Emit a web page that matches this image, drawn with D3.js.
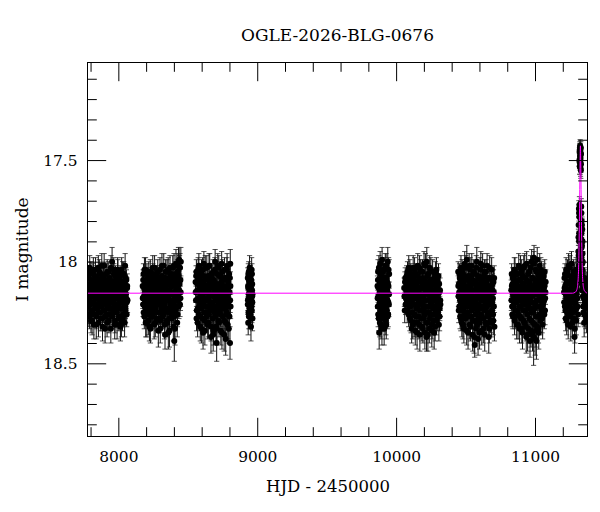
<!DOCTYPE html>
<html><head><meta charset="utf-8">
<script src="https://cdn.jsdelivr.net/npm/d3@7"></script>
<style>
body{margin:0;background:#fff}
text{font-family:"DejaVu Serif",serif;fill:#000}
</style>
</head><body>
<svg id="c" width="600" height="512"></svg>
<script>
const title = "OGLE-2026-BLG-0676";
const xLabel = "HJD - 2450000";
const yLabel = "I magnitude";
const xDomain = [7778, 11378];
const yDomain = [17.02, 18.86];
const xMajorTicks = [8000, 9000, 10000, 11000];
const xMinorTicks = [7800, 8200, 8400, 8600, 8800, 9200, 9400, 9600, 9800, 10200, 10400, 10600, 10800, 11200];
const yMajorTicks = [17.5, 18, 18.5];
const yMinorTicks = [17.1, 17.2, 17.3, 17.4, 17.6, 17.7, 17.8, 17.9, 18.1, 18.2, 18.3, 18.4, 18.6, 18.7, 18.8];

// [HJD-2450000, I mag, error]
const season1 = [[7781,18.14,.05],[7784,18.22,.06],[7786,18.08,.05],[7790,18.19,.05],[7793,18.27,.06],[7795,18.11,.04],[7799,18.17,.05],[7802,18.05,.05],[7805,18.24,.06],[7807,18.15,.05],
[7811,18.29,.07],[7814,18.10,.05],[7816,18.20,.05],[7820,18.04,.06],[7823,18.16,.04],[7826,18.26,.06],[7828,18.12,.05],[7832,18.21,.05],[7835,18.07,.05],[7837,18.18,.04],
[7841,18.31,.07],[7844,18.13,.05],[7847,18.23,.05],[7849,18.09,.05],[7853,18.17,.05],[7856,18.03,.06],[7858,18.25,.06],[7862,18.14,.04],[7865,18.20,.05],[7868,18.11,.05],
[7870,18.28,.06],[7874,18.06,.05],[7877,18.18,.05],[7880,18.22,.05],[7882,18.13,.04],[7886,18.32,.07],[7889,18.08,.05],[7891,18.16,.05],[7895,18.24,.06],[7898,18.02,.06],
[7901,18.19,.05],[7903,18.12,.05],[7907,18.27,.06],[7910,18.15,.04],[7912,18.06,.05],[7916,18.21,.05],[7919,18.30,.07],[7922,18.10,.05],[7925,18.17,.04],[7928,18.23,.05],
[7931,18.05,.05],[7934,18.14,.05],[7937,18.26,.06],[7940,18.09,.05],[7943,18.19,.05],[7946,18.33,.07],[7949,18.12,.05],[7952,18.20,.05],[7955,18.00,.07],[7958,18.16,.04],
[7961,18.25,.06],[7964,18.11,.05],[7967,18.04,.06],[7970,18.22,.05],[7973,18.14,.05],[7976,18.29,.06],[7979,18.07,.05],[7982,18.18,.05],[7985,18.24,.05],[7988,18.10,.05],
[7991,18.31,.07],[7994,18.15,.04],[7997,18.05,.06],[8000,18.21,.05],[8003,18.13,.05],[8006,18.27,.06],[8009,18.08,.05],[8012,18.19,.05],[8015,18.32,.07],[8018,18.12,.05],
[8021,18.23,.05],[8024,18.04,.06],[8027,18.17,.05],[8030,18.28,.06],[8033,18.10,.05],[8036,18.20,.05],[8039,18.06,.06],[8042,18.15,.05],[8045,18.30,.07],[8048,18.12,.05],
[8051,18.22,.06],[8054,18.08,.05],[8057,18.18,.05],[8060,18.26,.06],[8063,18.13,.05],[8066,18.19,.06],
[7782,18.19,.05],[7785,18.07,.05],[7788,18.26,.06],[7791,18.15,.04],[7794,18.03,.06],[7797,18.21,.05],[7800,18.12,.05],[7803,18.29,.06],[7806,18.17,.05],[7809,18.09,.05],
[7812,18.24,.06],[7815,18.13,.04],[7818,18.06,.05],[7821,18.20,.05],[7824,18.31,.07],[7827,18.16,.05],[7830,18.11,.05],[7833,18.23,.05],[7836,18.04,.06],[7839,18.18,.05],
[7842,18.27,.06],[7845,18.14,.04],[7848,18.08,.05],[7851,18.22,.05],[7854,18.12,.05],[7857,18.30,.07],[7860,18.19,.05],[7863,18.05,.06],[7866,18.15,.04],[7869,18.25,.06],
[7872,18.10,.05],[7875,18.21,.05],[7878,18.17,.05],[7881,18.02,.06],[7884,18.28,.06],[7887,18.13,.05],[7890,18.19,.05],[7893,18.07,.05],[7896,18.24,.06],[7899,18.16,.04],
[7902,18.11,.05],[7905,18.33,.07],[7908,18.20,.05],[7911,18.09,.05],[7914,18.14,.04],[7917,18.26,.06],[7920,18.05,.06],[7923,18.18,.05],[7926,18.22,.05],[7929,18.12,.05],
[7932,18.29,.06],[7935,18.15,.04],[7938,18.08,.05],[7941,18.23,.05],[7944,18.17,.05],[7947,18.03,.06],[7950,18.20,.05],[7953,18.13,.05],[7956,18.27,.06],[7959,18.10,.05],
[7962,18.19,.05],[7965,18.24,.06],[7968,18.06,.05],[7971,18.16,.04],[7974,18.31,.07],[7977,18.14,.05],[7980,18.21,.05],[7983,18.09,.05],[7986,18.18,.05],[7989,18.25,.06],
[7992,18.12,.05],[7995,18.04,.06],[7998,18.22,.05],[8001,18.16,.05],[8004,18.28,.06],[8007,18.11,.05],[8010,18.19,.05],[8013,18.07,.05],[8016,18.23,.05],[8019,18.15,.05],
[8022,18.30,.07],[8025,18.13,.05],[8028,18.20,.05],[8031,18.06,.06],[8034,18.17,.05],[8037,18.26,.06],[8040,18.10,.05],[8043,18.21,.05],[8046,18.14,.05],[8049,18.02,.06],
[8052,18.24,.06],[8055,18.16,.05],[8058,18.09,.05],[8061,18.20,.05],[8064,18.12,.06]];

const season2 = [[8175,18.12,.05],[8178,18.21,.06],[8181,18.06,.05],[8184,18.17,.05],[8187,18.27,.06],[8190,18.10,.05],[8193,18.19,.05],[8196,18.04,.06],[8199,18.24,.06],[8202,18.14,.04],
[8205,18.30,.07],[8208,18.09,.05],[8211,18.20,.05],[8214,18.13,.05],[8216,18.29,.07],[8219,18.05,.05],[8222,18.17,.05],[8225,18.22,.05],[8228,18.11,.05],[8231,18.33,.07],
[8234,18.08,.05],[8237,18.18,.05],[8240,18.25,.06],[8243,18.14,.04],[8246,18.27,.06],[8249,18.06,.05],[8252,18.20,.05],[8255,18.12,.05],[8258,18.31,.07],[8261,18.03,.06],
[8264,18.16,.05],[8267,18.23,.05],[8270,18.10,.05],[8273,18.28,.06],[8276,18.15,.04],[8279,18.07,.05],[8282,18.21,.05],[8285,18.13,.05],[8288,18.34,.08],[8291,18.09,.05],
[8294,18.18,.05],[8297,18.25,.06],[8300,18.04,.06],[8303,18.16,.04],[8306,18.29,.06],[8309,18.11,.05],[8312,18.22,.05],[8315,18.07,.05],[8318,18.19,.05],[8321,18.27,.06],
[8324,18.13,.05],[8327,18.02,.06],[8330,18.21,.05],[8333,18.15,.04],[8336,18.36,.07],[8339,18.08,.05],[8342,18.18,.05],[8345,18.24,.06],[8348,18.11,.05],[8351,18.05,.06],
[8354,18.30,.07],[8357,18.17,.05],[8360,18.35,.08],[8363,18.09,.05],[8366,18.14,.05],[8369,18.28,.06],[8372,18.03,.06],[8375,18.19,.05],[8378,18.23,.06],[8381,18.12,.05],
[8384,18.06,.05],[8387,18.26,.06],[8390,18.16,.05],[8393,18.10,.05],[8396,18.32,.07],[8399,18.21,.05],[8401,18.02,.06],[8403,18.39,.10],[8406,18.15,.05],[8409,18.08,.05],
[8412,18.24,.06],[8415,18.01,.07],[8418,18.19,.05],[8421,18.13,.05],[8424,18.30,.07],[8427,18.05,.06],[8430,18.17,.05],[8433,18.00,.07],[8436,18.22,.06],[8438,17.99,.06],
[8441,18.11,.05],[8444,18.03,.07],[8447,18.18,.06],[8450,18.00,.07],
[8176,18.18,.05],[8179,18.09,.05],[8182,18.25,.06],[8185,18.13,.05],[8188,18.04,.06],[8191,18.22,.05],[8194,18.15,.04],[8197,18.30,.07],[8200,18.11,.05],[8203,18.19,.05],
[8206,18.06,.05],[8209,18.26,.06],[8212,18.16,.05],[8215,18.08,.05],[8218,18.23,.05],[8221,18.12,.05],[8224,18.32,.07],[8227,18.18,.05],[8230,18.05,.06],[8233,18.21,.05],
[8236,18.14,.04],[8239,18.27,.06],[8242,18.10,.05],[8245,18.19,.05],[8248,18.03,.06],[8251,18.24,.06],[8254,18.16,.05],[8257,18.09,.05],[8260,18.22,.05],[8263,18.13,.05],
[8266,18.30,.07],[8269,18.07,.05],[8272,18.18,.05],[8275,18.25,.06],[8278,18.12,.05],[8281,18.20,.05],[8284,18.05,.06],[8287,18.15,.04],[8290,18.28,.06],[8293,18.11,.05],
[8296,18.21,.05],[8299,18.17,.05],[8302,18.33,.07],[8305,18.08,.05],[8308,18.14,.05],[8311,18.24,.06],[8314,18.02,.06],[8317,18.19,.05],[8320,18.12,.05],[8323,18.26,.06],
[8326,18.16,.05],[8329,18.09,.05],[8332,18.31,.07],[8335,18.20,.05],[8338,18.13,.05],[8341,18.05,.06],[8344,18.23,.05],[8347,18.17,.05],[8350,18.29,.06],[8353,18.10,.05],
[8356,18.19,.05],[8359,18.04,.06],[8362,18.25,.06],[8365,18.14,.05],[8368,18.34,.08],[8371,18.11,.05],[8374,18.21,.05],[8377,18.07,.05],[8380,18.16,.05],[8383,18.28,.06],
[8386,18.12,.05],[8389,18.20,.05],[8392,18.03,.06],[8395,18.24,.06],[8398,18.15,.05],[8400,18.09,.05],[8402,18.27,.06],[8405,18.18,.05],[8408,18.33,.08],[8411,18.12,.05],
[8414,18.06,.06],[8417,18.22,.05],[8420,18.15,.05],[8423,18.02,.06],[8426,18.26,.06],[8429,18.10,.05],[8432,18.19,.05],[8435,18.07,.06],[8438,18.14,.06],[8441,18.03,.06],
[8444,18.21,.06],[8447,18.09,.06],[8449,18.15,.07]];

const season3 = [[8556,18.10,.05],[8559,18.19,.05],[8562,18.05,.06],[8565,18.24,.06],[8568,18.14,.05],[8571,18.30,.07],[8574,18.08,.05],[8577,18.18,.05],[8580,18.02,.06],[8583,18.22,.05],
[8586,18.12,.05],[8589,18.27,.06],[8592,18.06,.05],[8595,18.16,.05],[8598,18.33,.07],[8601,18.10,.05],[8604,18.20,.05],[8607,18.04,.06],[8610,18.35,.08],[8613,18.13,.05],
[8616,18.01,.06],[8619,18.18,.05],[8622,18.29,.06],[8625,18.09,.05],[8628,18.25,.06],[8631,18.15,.05],[8634,18.22,.05],[8637,18.03,.06],[8640,18.12,.05],[8643,18.31,.07],
[8646,18.07,.05],[8649,18.19,.05],[8652,18.26,.06],[8655,18.11,.05],[8658,18.02,.06],[8661,18.21,.05],[8664,18.16,.05],[8667,18.37,.08],[8670,18.08,.05],[8673,18.23,.05],
[8676,18.13,.05],[8679,18.28,.06],[8682,18.05,.06],[8685,18.34,.07],[8688,18.17,.05],[8691,18.10,.05],[8694,18.25,.06],[8697,18.00,.06],[8700,18.19,.05],[8703,18.32,.07],
[8706,18.12,.05],[8708,18.40,.09],[8711,18.06,.06],[8714,18.22,.05],[8717,18.15,.05],[8720,18.29,.06],[8723,18.03,.06],[8726,18.18,.05],[8729,18.11,.05],[8732,18.24,.06],
[8735,18.07,.05],[8738,18.34,.07],[8741,18.16,.05],[8744,18.01,.06],[8747,18.21,.05],[8750,18.13,.05],[8753,18.27,.06],[8756,18.09,.05],[8759,18.19,.05],[8762,18.36,.08],
[8765,18.04,.06],[8768,18.23,.05],[8771,18.14,.05],[8774,18.30,.07],[8777,18.08,.05],[8780,18.17,.05],[8783,18.02,.06],[8786,18.26,.06],[8789,18.12,.05],[8792,18.20,.05],
[8795,18.33,.07],[8798,18.06,.06],[8801,18.15,.05],[8804,18.40,.08],[8806,18.01,.07],[8808,18.22,.06],
[8557,18.15,.05],[8560,18.07,.05],[8563,18.28,.06],[8566,18.19,.05],[8569,18.11,.05],[8572,18.23,.05],[8575,18.04,.06],[8578,18.26,.06],[8581,18.14,.05],[8584,18.09,.05],
[8587,18.20,.05],[8590,18.32,.07],[8593,18.12,.05],[8596,18.23,.05],[8599,18.05,.06],[8602,18.17,.05],[8605,18.28,.06],[8608,18.11,.05],[8611,18.21,.05],[8614,18.07,.05],
[8617,18.25,.06],[8620,18.15,.05],[8623,18.34,.07],[8626,18.03,.06],[8629,18.19,.05],[8632,18.12,.05],[8635,18.27,.06],[8638,18.18,.05],[8641,18.08,.05],[8644,18.22,.05],
[8647,18.14,.05],[8650,18.30,.07],[8653,18.02,.06],[8656,18.17,.05],[8659,18.24,.06],[8662,18.10,.05],[8665,18.20,.05],[8668,18.32,.07],[8671,18.06,.05],[8674,18.16,.05],
[8677,18.21,.05],[8680,18.12,.05],[8683,18.36,.08],[8686,18.09,.05],[8689,18.23,.05],[8692,18.15,.05],[8695,18.04,.06],[8698,18.27,.06],[8701,18.18,.05],[8704,18.11,.05],
[8707,18.25,.06],[8710,18.33,.07],[8713,18.13,.05],[8716,18.02,.06],[8719,18.20,.05],[8722,18.16,.05],[8725,18.30,.07],[8728,18.07,.05],[8731,18.22,.05],[8734,18.14,.05],
[8737,18.26,.06],[8740,18.10,.05],[8743,18.19,.05],[8746,18.35,.08],[8749,18.05,.06],[8752,18.17,.05],[8755,18.23,.05],[8758,18.12,.05],[8761,18.29,.06],[8764,18.15,.05],
[8767,18.08,.05],[8770,18.21,.05],[8773,18.38,.08],[8776,18.13,.05],[8779,18.25,.06],[8782,18.04,.06],[8785,18.18,.05],[8788,18.31,.07],[8791,18.10,.05],[8794,18.22,.05],
[8797,18.15,.05],[8800,18.27,.06],[8803,18.08,.06],[8805,18.19,.06],[8807,18.12,.07]];

const season4 = [[8932,18.08,.05],[8933,18.19,.05],[8935,18.30,.06],[8936,18.13,.05],[8937,18.25,.06],[8939,18.05,.05],[8940,18.16,.05],[8942,18.10,.05],[8943,18.22,.05],[8945,18.03,.06],
[8946,18.18,.05],[8948,18.27,.06],[8949,18.12,.05],[8951,18.07,.05],[8952,18.21,.05],[8954,18.15,.05],[8955,18.32,.07],[8957,18.09,.05],[8958,18.19,.05],[8960,18.04,.06],
[8961,18.24,.06],[8963,18.14,.05],[8964,18.11,.05],[8965,18.20,.05],[8966,18.16,.05],
[8932,18.21,.05],[8934,18.12,.05],[8936,18.06,.05],[8938,18.18,.05],[8940,18.27,.06],[8941,18.09,.05],[8943,18.15,.05],[8944,18.24,.06],[8947,18.10,.05],[8950,18.17,.05],
[8953,18.26,.06],[8956,18.13,.05],[8959,18.22,.05],[8962,18.06,.05],[8964,18.17,.05],[8966,18.28,.06]];

const season5 = [[9866,18.12,.05],[9868,18.22,.06],[9870,18.05,.06],[9873,18.17,.05],[9875,18.28,.06],[9878,18.35,.08],[9880,18.09,.05],[9882,18.19,.05],[9885,18.01,.06],[9887,18.25,.06],
[9890,18.14,.05],[9892,18.31,.07],[9894,18.07,.05],[9897,18.20,.05],[9899,17.99,.06],[9902,18.16,.05],[9904,18.27,.06],[9906,18.11,.05],[9909,18.23,.05],[9911,18.04,.06],
[9914,18.33,.08],[9916,18.13,.05],[9918,18.21,.05],[9921,18.08,.05],[9923,18.18,.05],[9926,18.29,.07],[9928,18.02,.06],[9930,18.15,.05],[9933,18.24,.06],[9935,18.10,.05],
[9938,18.19,.05],[9940,18.00,.07],[9943,18.26,.06],[9945,18.12,.05],[9948,18.21,.06],[9950,18.06,.07],
[9867,18.18,.05],[9869,18.09,.05],[9871,18.26,.06],[9874,18.13,.05],[9876,18.03,.06],[9879,18.21,.05],[9881,18.15,.05],[9883,18.30,.07],[9886,18.10,.05],[9888,18.19,.05],
[9891,18.06,.05],[9893,18.24,.06],[9895,18.16,.05],[9898,18.33,.08],[9900,18.12,.05],[9903,18.22,.05],[9905,18.05,.06],[9907,18.18,.05],[9910,18.28,.06],[9912,18.14,.05],
[9915,18.09,.05],[9917,18.25,.06],[9919,18.17,.05],[9922,18.02,.06],[9924,18.23,.05],[9927,18.13,.05],[9929,18.31,.07],[9931,18.08,.05],[9934,18.19,.05],[9936,18.14,.05],
[9939,18.27,.06],[9941,18.11,.05],[9944,18.20,.05],[9946,18.04,.06],[9949,18.16,.06]];

const season6 = [[10058,18.13,.05],[10062,18.24,.06],[10066,18.08,.05],[10070,18.18,.05],[10074,18.11,.05],[10078,18.20,.05],[10082,18.05,.05],[10086,18.15,.05],[10090,18.26,.06],[10093,18.09,.05],
[10096,18.17,.05],[10099,18.04,.05],[10102,18.22,.05],[10105,18.12,.05],[10108,18.29,.06],[10111,18.07,.05],[10114,18.19,.05],[10117,18.14,.05],[10120,18.31,.07],[10123,18.03,.06],
[10126,18.21,.05],[10129,18.10,.05],[10132,18.26,.06],[10135,18.16,.05],[10138,18.34,.07],[10141,18.06,.05],[10144,18.18,.05],[10147,18.23,.06],[10150,18.12,.05],[10153,18.30,.07],
[10156,18.02,.06],[10159,18.15,.05],[10162,18.27,.06],[10165,18.09,.05],[10168,18.20,.05],[10171,18.36,.08],[10174,18.13,.05],[10177,18.05,.06],[10180,18.24,.06],[10183,18.17,.05],
[10186,18.32,.07],[10189,18.08,.05],[10192,18.21,.05],[10195,18.11,.05],[10198,18.28,.06],[10201,18.01,.06],[10204,18.16,.05],[10207,18.35,.08],[10210,18.19,.05],[10213,18.10,.05],
[10216,18.25,.06],[10219,18.37,.07],[10221,18.00,.07],[10224,18.14,.05],[10227,18.30,.07],[10230,18.06,.05],[10233,18.22,.05],[10236,18.12,.05],[10239,18.33,.07],[10242,18.03,.06],
[10245,18.18,.05],[10248,18.26,.06],[10251,18.09,.05],[10254,18.20,.05],[10257,18.34,.08],[10260,18.14,.05],[10263,18.05,.06],[10266,18.23,.06],[10269,18.16,.05],[10272,18.29,.07],
[10275,18.08,.05],[10278,18.19,.05],[10281,18.32,.07],[10284,18.11,.05],[10287,18.24,.06],[10290,18.04,.06],[10293,18.17,.05],[10296,18.27,.07],[10299,18.12,.05],[10302,18.21,.06],
[10305,18.07,.06],[10308,18.31,.08],[10311,18.15,.05],[10314,18.23,.06],[10318,18.19,.05],
[10060,18.17,.05],[10064,18.10,.05],[10068,18.21,.05],[10072,18.14,.05],[10076,18.07,.05],[10080,18.24,.06],[10084,18.12,.05],[10088,18.19,.05],[10091,18.03,.06],[10094,18.22,.05],
[10097,18.13,.05],[10100,18.28,.06],[10103,18.16,.05],[10106,18.06,.05],[10109,18.20,.05],[10112,18.33,.07],[10115,18.11,.05],[10118,18.25,.06],[10121,18.15,.05],[10124,18.08,.05],
[10127,18.18,.05],[10130,18.30,.07],[10133,18.04,.06],[10136,18.21,.05],[10139,18.13,.05],[10142,18.27,.06],[10145,18.10,.05],[10148,18.17,.05],[10151,18.35,.08],[10154,18.07,.05],
[10157,18.22,.05],[10160,18.14,.05],[10163,18.19,.05],[10166,18.31,.07],[10169,18.03,.06],[10172,18.24,.06],[10175,18.16,.05],[10178,18.10,.05],[10181,18.28,.06],[10184,18.13,.05],
[10187,18.20,.05],[10190,18.05,.06],[10193,18.33,.07],[10196,18.17,.05],[10199,18.23,.05],[10202,18.09,.05],[10205,18.26,.06],[10208,18.14,.05],[10211,18.02,.06],[10214,18.19,.05],
[10217,18.30,.07],[10220,18.12,.05],[10223,18.22,.05],[10226,18.07,.05],[10229,18.36,.08],[10232,18.16,.05],[10235,18.25,.06],[10238,18.10,.05],[10241,18.19,.05],[10244,18.28,.06],
[10247,18.13,.05],[10250,18.04,.06],[10253,18.21,.05],[10256,18.15,.05],[10259,18.31,.07],[10262,18.09,.05],[10265,18.18,.05],[10268,18.26,.06],[10271,18.11,.05],[10274,18.35,.08],
[10277,18.14,.05],[10280,18.22,.05],[10283,18.06,.06],[10286,18.17,.05],[10289,18.29,.07],[10292,18.12,.05],[10295,18.20,.05],[10298,18.09,.06],[10301,18.25,.06],[10304,18.15,.05],
[10307,18.19,.06],[10310,18.11,.05],[10313,18.27,.07],[10316,18.14,.06],[10319,18.21,.06]];

const season7 = [[10447,18.05,.05],[10449,18.17,.05],[10452,18.11,.05],[10455,18.22,.06],[10458,18.08,.05],[10461,18.27,.06],[10464,18.14,.05],[10467,18.03,.06],[10470,18.19,.05],[10473,18.30,.07],
[10476,18.10,.05],[10479,18.24,.06],[10482,18.06,.05],[10485,18.16,.05],[10488,18.33,.07],[10491,18.12,.05],[10494,18.01,.06],[10497,18.21,.05],[10500,18.28,.06],[10503,18.09,.05],
[10506,18.18,.05],[10509,17.99,.07],[10512,18.25,.06],[10515,18.13,.05],[10518,18.35,.08],[10521,18.07,.05],[10524,18.20,.05],[10527,18.15,.05],[10530,18.31,.07],[10533,18.04,.06],
[10536,18.22,.05],[10539,18.11,.05],[10542,18.27,.06],[10545,18.02,.06],[10548,18.17,.05],[10551,18.36,.08],[10554,18.09,.05],[10557,18.23,.06],[10560,18.14,.05],[10563,18.29,.06],
[10566,18.41,.06],[10569,18.06,.05],[10572,18.19,.05],[10575,18.33,.07],[10578,18.12,.05],[10581,18.00,.07],[10584,18.24,.06],[10587,18.16,.05],[10590,18.38,.08],[10593,18.08,.05],
[10596,18.21,.05],[10599,18.13,.05],[10602,18.30,.07],[10605,18.04,.06],[10608,18.18,.05],[10611,18.26,.06],[10614,18.10,.05],[10617,18.34,.07],[10620,18.15,.05],[10623,18.02,.06],
[10626,18.22,.05],[10629,18.28,.06],[10632,18.07,.05],[10635,18.19,.05],[10638,18.36,.08],[10641,18.11,.05],[10644,18.24,.06],[10647,18.05,.06],[10650,18.17,.05],[10653,18.31,.07],
[10656,18.13,.05],[10659,18.21,.05],[10662,18.08,.06],[10665,18.27,.06],[10668,18.15,.05],[10671,18.33,.07],[10674,18.03,.06],[10677,18.19,.05],[10680,18.25,.06],[10683,18.12,.05],
[10686,18.30,.07],[10689,18.09,.06],[10692,18.20,.05],[10695,18.14,.06],[10698,18.26,.07],[10701,18.10,.06],[10704,18.22,.07],[10708,18.32,.07],
[10448,18.12,.05],[10451,18.24,.06],[10454,18.15,.05],[10457,18.06,.05],[10460,18.19,.05],[10463,18.10,.05],[10466,18.28,.06],[10469,18.13,.05],[10472,18.21,.05],[10475,18.05,.06],
[10478,18.17,.05],[10481,18.31,.07],[10484,18.11,.05],[10487,18.23,.05],[10490,18.08,.05],[10493,18.18,.05],[10496,18.26,.06],[10499,18.14,.05],[10502,18.03,.06],[10505,18.20,.05],
[10508,18.34,.07],[10511,18.12,.05],[10514,18.22,.05],[10517,18.09,.05],[10520,18.17,.05],[10523,18.27,.06],[10526,18.02,.06],[10529,18.19,.05],[10532,18.13,.05],[10535,18.32,.07],
[10538,18.16,.05],[10541,18.07,.05],[10544,18.24,.06],[10547,18.11,.05],[10550,18.20,.05],[10553,18.29,.06],[10556,18.05,.06],[10559,18.18,.05],[10562,18.37,.08],[10565,18.14,.05],
[10568,18.22,.05],[10571,18.10,.05],[10574,18.26,.06],[10577,18.03,.06],[10580,18.17,.05],[10583,18.31,.07],[10586,18.12,.05],[10589,18.21,.05],[10592,18.07,.05],[10595,18.28,.06],
[10598,18.15,.05],[10601,18.35,.08],[10604,18.11,.05],[10607,18.23,.05],[10610,18.01,.06],[10613,18.19,.05],[10616,18.14,.05],[10619,18.27,.06],[10622,18.09,.05],[10625,18.17,.05],
[10628,18.33,.07],[10631,18.13,.05],[10634,18.24,.06],[10637,18.05,.06],[10640,18.20,.05],[10643,18.15,.05],[10646,18.30,.07],[10649,18.10,.05],[10652,18.22,.05],[10655,18.02,.06],
[10658,18.18,.05],[10661,18.26,.06],[10664,18.12,.05],[10667,18.37,.08],[10670,18.16,.05],[10673,18.21,.05],[10676,18.08,.05],[10679,18.29,.06],[10682,18.14,.05],[10685,18.19,.06],
[10688,18.04,.06],[10691,18.24,.06],[10694,18.11,.05],[10697,18.18,.06],[10700,18.29,.07],[10703,18.15,.06],[10706,18.08,.06]];

const season8 = [[10829,18.14,.05],[10832,18.06,.05],[10835,18.22,.06],[10838,18.11,.05],[10841,18.27,.06],[10844,18.17,.05],[10847,18.08,.05],[10850,18.20,.05],[10853,18.29,.07],[10856,18.04,.06],
[10859,18.15,.05],[10862,18.24,.06],[10865,18.10,.05],[10868,18.31,.07],[10871,18.06,.05],[10874,18.19,.05],[10877,18.13,.05],[10880,18.26,.06],[10883,18.02,.06],[10886,18.17,.05],
[10889,18.33,.07],[10892,18.09,.05],[10895,18.22,.05],[10898,18.14,.05],[10901,18.28,.06],[10904,18.05,.06],[10907,18.19,.05],[10910,18.35,.08],[10913,18.11,.05],[10916,18.24,.06],
[10919,18.03,.06],[10922,18.16,.05],[10925,18.30,.07],[10928,18.08,.05],[10931,18.21,.05],[10934,18.13,.05],[10937,18.37,.08],[10940,18.01,.06],[10943,18.18,.05],[10946,18.26,.06],
[10949,18.10,.05],[10952,18.33,.07],[10955,18.15,.05],[10958,18.05,.06],[10961,18.23,.06],[10964,18.39,.08],[10967,18.12,.05],[10970,18.20,.05],[10973,18.29,.07],[10976,18.00,.06],
[10979,18.17,.05],[10982,18.36,.08],[10985,18.08,.05],[10988,18.25,.06],[10990,18.37,.14],[10993,17.98,.06],[10996,18.14,.05],[10999,18.31,.07],[11002,18.21,.05],[11005,18.04,.06],
[11008,18.34,.08],[11010,18.39,.09],[11013,18.11,.05],[11016,17.99,.06],[11019,18.27,.06],[11022,18.16,.05],[11025,18.33,.07],[11028,18.07,.05],[11031,18.22,.05],[11034,18.02,.06],
[11037,18.18,.05],[11040,18.29,.07],[11043,18.12,.05],[11046,18.06,.06],[11049,18.24,.06],[11052,18.15,.05],[11055,18.31,.07],[11058,18.09,.06],[11061,18.20,.06],[11064,18.13,.05],
[11067,18.26,.07],[11070,18.05,.06],[11073,18.18,.06],[11077,18.10,.06],
[10830,18.19,.05],[10833,18.12,.05],[10836,18.26,.06],[10839,18.08,.05],[10842,18.16,.05],[10845,18.22,.05],[10848,18.13,.05],[10851,18.04,.06],[10854,18.18,.05],[10857,18.27,.06],
[10860,18.10,.05],[10863,18.20,.05],[10866,18.15,.05],[10869,18.06,.05],[10872,18.24,.06],[10875,18.12,.05],[10878,18.31,.07],[10881,18.17,.05],[10884,18.09,.05],[10887,18.22,.05],
[10890,18.14,.05],[10893,18.27,.06],[10896,18.03,.06],[10899,18.19,.05],[10902,18.12,.05],[10905,18.33,.07],[10908,18.16,.05],[10911,18.07,.05],[10914,18.21,.05],[10917,18.29,.06],
[10920,18.11,.05],[10923,18.18,.05],[10926,18.02,.06],[10929,18.24,.06],[10932,18.15,.05],[10935,18.32,.07],[10938,18.09,.05],[10941,18.20,.05],[10944,18.13,.05],[10947,18.36,.08],
[10950,18.06,.06],[10953,18.22,.05],[10956,18.17,.05],[10959,18.28,.06],[10962,18.10,.05],[10965,18.19,.05],[10968,18.03,.06],[10971,18.34,.08],[10974,18.14,.05],[10977,18.25,.06],
[10980,18.08,.05],[10983,18.20,.05],[10986,18.30,.07],[10989,18.12,.05],[10992,18.01,.06],[10995,18.23,.05],[10998,18.16,.05],[11001,18.38,.08],[11004,18.10,.05],[11007,18.27,.06],
[11010,18.05,.06],[11012,18.19,.05],[11015,18.32,.07],[11018,18.13,.05],[11021,18.22,.05],[11024,18.09,.05],[11027,18.35,.08],[11030,18.15,.05],[11033,18.26,.06],[11036,18.11,.05],
[11039,18.19,.05],[11042,18.04,.06],[11045,18.23,.06],[11048,18.16,.05],[11051,18.28,.07],[11054,18.10,.05],[11057,18.21,.06],[11060,18.14,.05],[11063,18.07,.06],[11066,18.19,.06],
[11069,18.12,.06],[11072,18.24,.07],[11075,18.15,.06]];

const season9 = [[11209,18.15,.05],[11212,18.08,.05],[11215,18.22,.06],[11218,18.12,.05],[11221,18.28,.06],[11224,18.04,.06],[11227,18.18,.05],[11230,18.10,.05],[11233,18.25,.06],[11236,18.14,.05],
[11239,18.31,.07],[11242,18.02,.06],[11245,18.20,.05],[11248,18.07,.05],[11251,18.17,.05],[11254,18.27,.06],[11257,18.11,.05],[11260,18.23,.05],[11263,18.01,.06],[11266,18.15,.05],
[11269,18.30,.07],[11272,18.09,.05],[11275,18.19,.05],[11278,18.05,.06],[11281,18.24,.06],[11285,18.37,.08],[11288,18.13,.05],[11291,18.21,.05],[11294,18.08,.05],[11297,18.29,.07],
[11300,18.16,.05],[11303,18.11,.05],[11306,18.22,.06],
[11210,18.20,.05],[11213,18.13,.05],[11216,18.06,.05],[11219,18.24,.06],[11222,18.16,.05],[11225,18.11,.05],[11228,18.29,.07],[11231,18.14,.05],[11234,18.05,.06],[11237,18.21,.05],
[11240,18.17,.05],[11243,18.26,.06],[11246,18.10,.05],[11249,18.22,.05],[11252,18.03,.06],[11255,18.18,.05],[11258,18.32,.07],[11261,18.13,.05],[11264,18.20,.05],[11267,18.08,.05],
[11270,18.25,.06],[11273,18.15,.05],[11276,18.11,.05],[11279,18.28,.06],[11282,18.17,.05],[11284,18.06,.05],[11287,18.33,.07],[11290,18.12,.05],[11293,18.19,.05],[11296,18.04,.06],
[11299,18.23,.06],[11302,18.14,.05],[11305,18.18,.05],[11308,18.09,.05],[11310,18.26,.06],
[11312,17.95,.05],[11313,18.10,.05],[11314,17.82,.04],[11315,18.02,.05],[11316,17.74,.04],[11317,17.90,.05],[11318,18.06,.05],[11319,17.78,.04],
[11313,17.88,.04],[11314,17.97,.05],[11316,18.08,.05],[11317,17.76,.04],[11318,17.86,.04],[11319,17.99,.05],[11320,17.72,.04],
[11320,17.50,.03],[11321,17.46,.03],[11322,17.53,.04],[11323,17.44,.03],[11324,17.48,.03],[11325,17.43,.03],[11326,17.51,.04],[11327,17.45,.03],[11328,17.54,.04],[11329,17.47,.03],[11330,17.44,.03],[11331,17.52,.04],
[11321,17.51,.03],[11322,17.45,.03],[11324,17.53,.04],[11326,17.46,.03],[11328,17.49,.03],[11330,17.55,.04],[11331,17.47,.03],
[11333,17.73,.04],[11334,17.86,.04],[11335,17.98,.05],[11336,17.80,.04],[11337,18.08,.05],[11338,17.92,.05],[11339,18.14,.05],[11340,17.84,.05],[11341,18.04,.05],[11342,17.96,.05],[11343,18.12,.05],[11344,18.00,.05],
[11333,17.89,.05],[11334,17.76,.04],[11335,18.06,.05],[11336,17.93,.05],[11338,17.82,.04],[11340,18.01,.05],[11342,17.90,.05],[11344,18.10,.05],
[11345,18.17,.05],[11348,18.25,.06],[11351,18.12,.05],[11354,18.30,.07],[11357,18.08,.05],[11360,18.20,.05],[11363,18.14,.05],[11366,18.27,.06],[11369,18.10,.05],[11372,18.19,.05],[11375,18.23,.06],
[11346,18.22,.05],[11349,18.11,.05],[11352,18.18,.05],[11355,18.26,.06],[11358,18.14,.05],[11361,18.09,.05],[11364,18.21,.05],[11367,18.16,.05],[11370,18.29,.06],[11373,18.13,.05],[11376,18.18,.06]];

// model light curve
const modelT   = [7778, 11270, 11290, 11300, 11308, 11313, 11317, 11320, 11323, 11325, 11327, 11329, 11331, 11334, 11337, 11341, 11346, 11354, 11365, 11378];
const modelMag = [18.155, 18.155, 18.15, 18.14, 18.11, 18.05, 17.93, 17.78, 17.60, 17.49, 17.43, 17.49, 17.60, 17.78, 17.93, 18.05, 18.11, 18.14, 18.15, 18.155];

const svg = d3.select("#c");
const M = {l: 87.5, r: 587.5, t: 62.5, b: 436.5};
const x = d3.scaleLinear().domain(xDomain).range([M.l, M.r]);
const y = d3.scaleLinear().domain(yDomain).range([M.t, M.b]);

svg.append("defs").append("clipPath").attr("id", "clip")
  .append("rect").attr("x", M.l).attr("y", M.t).attr("width", M.r - M.l).attr("height", M.b - M.t);

const pts = [].concat(season1, season2, season3, season4, season5, season6, season7, season8, season9)
  .map(d => ({t: d[0], m: d[1], e: d[2]}));

const plot = svg.append("g").attr("clip-path", "url(#clip)");
const cap = 2.6;
// caps layer
const capG = plot.append("g").attr("stroke", "#555").attr("stroke-width", 1);
capG.selectAll("line.ct").data(pts).join("line").attr("class", "ct")
  .attr("x1", d => x(d.t) - cap).attr("x2", d => x(d.t) + cap)
  .attr("y1", d => y(d.m - d.e)).attr("y2", d => y(d.m - d.e));
capG.selectAll("line.cb").data(pts).join("line").attr("class", "cb")
  .attr("x1", d => x(d.t) - cap).attr("x2", d => x(d.t) + cap)
  .attr("y1", d => y(d.m + d.e)).attr("y2", d => y(d.m + d.e));
// bars layer
plot.append("g").attr("stroke", "#111").attr("stroke-width", 1)
  .selectAll("line").data(pts).join("line")
  .attr("x1", d => x(d.t)).attr("x2", d => x(d.t))
  .attr("y1", d => y(d.m - d.e)).attr("y2", d => y(d.m + d.e));
// points layer
plot.append("g").attr("fill", "#000")
  .selectAll("circle").data(pts).join("circle")
  .attr("cx", d => x(d.t)).attr("cy", d => y(d.m)).attr("r", 3.0);

plot.append("path")
  .datum(modelT.map((t, i) => [t, modelMag[i]]))
  .attr("d", d3.line().x(d => x(d[0])).y(d => y(d[1])).curve(d3.curveMonotoneX))
  .attr("fill", "none").attr("stroke", "#ff00ff").attr("stroke-width", 1);

// axes
const fs = "15.4px";
function styleAxis(g) {
  g.select(".domain").remove();
  g.attr("font-family", "DejaVu Serif").attr("font-size", fs);
  g.selectAll(".tick line").attr("stroke", "#000").attr("stroke-width", 1);
}
const MAJ = 18.7, MIN = 9.3;
svg.append("g").attr("transform", `translate(0,${M.b})`)
  .call(d3.axisBottom(x).tickValues(xMajorTicks).tickSize(-MAJ).tickPadding(15).tickFormat(d3.format("d"))).call(styleAxis);
svg.append("g").attr("transform", `translate(0,${M.b})`)
  .call(d3.axisBottom(x).tickValues(xMinorTicks).tickSize(-MIN).tickFormat("")).call(styleAxis);
svg.append("g").attr("transform", `translate(0,${M.t})`)
  .call(d3.axisTop(x).tickValues(xMajorTicks).tickSize(-MAJ).tickFormat("")).call(styleAxis);
svg.append("g").attr("transform", `translate(0,${M.t})`)
  .call(d3.axisTop(x).tickValues(xMinorTicks).tickSize(-MIN).tickFormat("")).call(styleAxis);
svg.append("g").attr("transform", `translate(${M.l},0)`)
  .call(d3.axisLeft(y).tickValues(yMajorTicks).tickSize(-MAJ).tickPadding(10).tickFormat(d => String(d))).call(styleAxis);
svg.append("g").attr("transform", `translate(${M.l},0)`)
  .call(d3.axisLeft(y).tickValues(yMinorTicks).tickSize(-MIN).tickFormat("")).call(styleAxis);
svg.append("g").attr("transform", `translate(${M.r},0)`)
  .call(d3.axisRight(y).tickValues(yMajorTicks).tickSize(-MAJ).tickFormat("")).call(styleAxis);
svg.append("g").attr("transform", `translate(${M.r},0)`)
  .call(d3.axisRight(y).tickValues(yMinorTicks).tickSize(-MIN).tickFormat("")).call(styleAxis);

svg.append("rect").attr("x", M.l).attr("y", M.t).attr("width", M.r - M.l).attr("height", M.b - M.t)
  .attr("fill", "none").attr("stroke", "#000").attr("stroke-width", 1);

svg.append("text").attr("x", 337.5).attr("y", 40.7).attr("text-anchor", "middle")
  .attr("font-size", "17px").text(title);
svg.append("text").attr("x", 328).attr("y", 491.7).attr("text-anchor", "middle")
  .attr("font-size", "16.5px").text(xLabel);
svg.append("text").attr("transform", "translate(28,249.5) rotate(-90)").attr("text-anchor", "middle")
  .attr("font-size", "17px").text(yLabel);
</script>
</body></html>
